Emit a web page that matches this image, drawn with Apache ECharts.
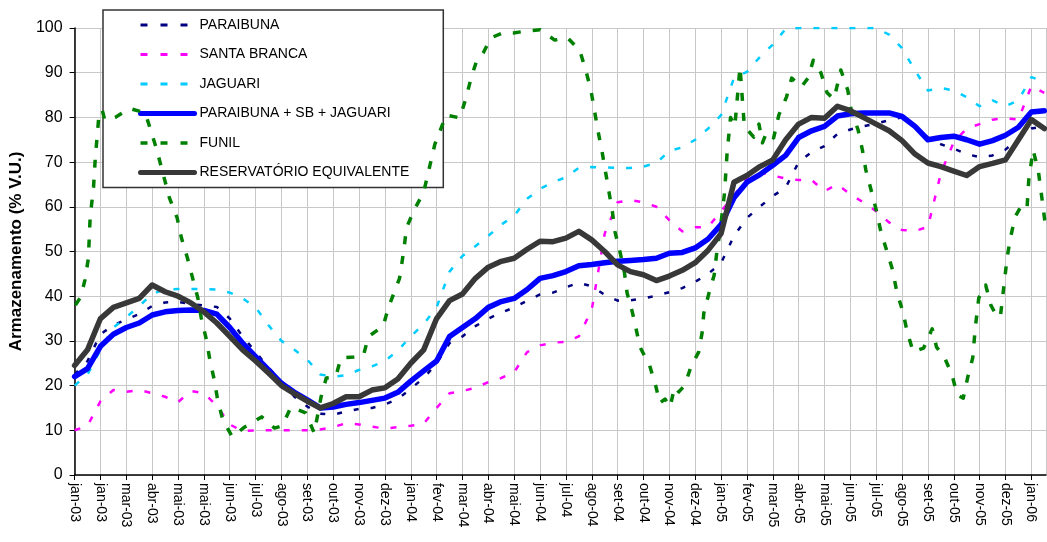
<!DOCTYPE html>
<html>
<head>
<meta charset="utf-8">
<script src="https://cdn.jsdelivr.net/npm/echarts@6/dist/echarts.min.js"></script>
<style>
html,body{margin:0;padding:0;background:#fff;}
#chart{width:1047px;height:542px;}
</style>
</head>
<body>
<div id="chart"></div>
<script>
// Rótulos do eixo X (um a cada 30 dias a partir de 01/jan/2003)
var rotulos = ['jan-03','jan-03','mar-03','abr-03','mai-03','mai-03','jun-03','jul-03','ago-03','set-03','out-03','nov-03','dez-03',
  'jan-04','fev-04','mar-04','abr-04','mai-04','jun-04','jul-04','ago-04','set-04','out-04','nov-04','dez-04',
  'jan-05','fev-05','mar-05','abr-05','mai-05','jun-05','jul-05','ago-05','set-05','out-05','nov-05','dez-05','jan-06'];

// Amostragem a cada 15 dias (dia 0 ... dia 1125)
var dias = [0,15,30,45,60,75,90,105,120,135,150,165,180,195,210,225,240,255,270,285,300,315,330,345,360,375,390,405,420,435,450,465,480,495,510,525,540,555,570,585,600,615,630,645,660,675,690,705,720,735,750,765,780,795,810,825,840,855,870,885,900,915,930,945,960,975,990,1005,1020,1035,1050,1065,1080,1095,1110,1125];

var paraibuna = [22.5,25.5,31.5,33.5,34.8,36,37.8,38.6,38.7,38.3,37.9,37.6,35,31,27.5,24,21,17.5,15.3,13.7,13.5,14.2,14.8,15,15.8,17,19.3,21.7,25,29.5,31,33.3,35,36.3,37.5,39,40.4,40.8,42,43,42.2,40.3,39,39.1,39.5,40.1,40.9,41.8,43.2,45,47.4,53.5,57.5,60,62.4,64.3,70,72.2,73.6,76.3,77.3,78,78.6,79.4,80,78,75.5,74,73,71.8,71.1,71.5,72.8,75.3,77.5,78];

var santaBranca = [10,11,16.5,19,18.6,19,18.3,17.5,16.3,18.8,18.3,15.5,11.3,9.8,10,10,10,10,10,10.2,10.7,11.6,11.3,10.8,10.4,10.7,11,11.5,15,18.3,18.8,19.5,20.8,21.7,23,27.5,29,29.6,29.8,31,37,54,61,61.5,61,60,57,54.5,55.4,55.5,59,62.5,66.5,67.7,67,66.3,66,66,63.5,65,62.8,61,59,56.5,54.8,54.6,55.5,67.5,74.5,77.5,78.5,79.5,79.8,79.5,87,85.5];

var jaguari = [20,22.5,28,33,35.3,37.8,40.5,41.5,41.6,41.6,41.6,41.5,40.8,39.5,37.5,33.5,30,28,25.8,22.5,22,22.3,23.5,24.3,25.5,27.8,31,33.8,37.5,45.5,49,51.2,53.5,56,58,61.8,64,65.5,66.6,68.7,68.9,68.8,68.7,68.7,69,69.8,72.5,73.3,75,77.5,80.5,88.8,90.2,93.5,96.3,99.8,100,100,100,100,100,100,100,98.5,95.5,90.5,86,86.6,86,84.5,82.5,83.8,82.5,83.8,89,88];

var somaPSJ = [22,23.8,28.8,31.5,33,34,35.8,36.5,36.8,36.9,36.8,36,33,29.5,26.5,23.5,20.5,18.5,16.8,15,15.2,15.8,16.2,16.7,17.2,18.5,21,23.3,25.5,31,33,35,37.5,38.8,39.5,41.5,44,44.6,45.5,46.8,47.1,47.5,47.8,48,48.2,48.5,49.6,49.8,50.8,52.8,56,62,65.5,67.2,69.3,71.5,75.5,77,78,80.3,80.8,81,81,81,80.2,78,75,75.5,75.8,75,74,74.8,76,77.8,81.2,81.5];

var reservEquiv = [24.5,28,35,37.5,38.5,39.5,42.5,41,40,38.5,36.5,34,31,28,25.5,22.8,20,18.2,16.5,15,16,17.5,17.5,19,19.5,21.5,25,28,35,39,40.5,44,46.5,47.8,48.5,50.5,52.3,52.2,53,54.5,52.6,50,47,45.5,44.8,43.5,44.5,45.8,47.5,50.3,54,65.5,67,69,70.5,75,78.5,80,79.8,82.5,81.5,80,78.5,77,74.8,71.8,69.8,69,68,67,69,69.7,70.5,75,79.5,77.5];

// FUNIL: pontos irregulares (dia, valor)
var funilDia = [1,7,12,16,18,22,24,26,28,32,35,47,64,82,95,110,119,124,131,137,143,147,153,157,162,166,172,183,197,217,232,241,251,268,278,286,292,303,309,324,335,341,358,364,377,382,385,394,405,418,431,447,454,460,466,474,483,497,509,524,540,557,572,586,593,599,603,607,612,616,620,624,627,633,638,641,647,651,656,667,674,679,685,691,696,701,708,715,724,728,730,736,742,745,749,754,757,761,766,772,777,788,794,798,803,811,817,826,832,843,851,857,866,873,881,889,897,901,909,914,918,924,930,935,942,949,954,961,966,973,985,995,1000,1009,1018,1024,1031,1036,1042,1045,1049,1057,1063,1068,1074,1078,1082,1086,1091,1099,1105,1107,1112,1118,1121,1127];
var funilVal = [38,39.8,43.6,48.5,57.5,64.5,70.9,75.4,80,81.7,79.4,80,82,81,73,62,57.5,53,48.5,44,39.6,35.1,30.2,25.7,21.3,16.8,12.3,8.5,10.7,13,10.5,11,15.2,13.9,9.4,17.5,21.7,22,26.2,26.4,26.7,31,33.3,37.4,44,50.3,55.3,59.3,63.3,74,80.5,79.9,84.3,88.8,92.4,94.4,97.8,98.9,98.9,99.3,99.6,97.3,97.8,95,90.6,86.1,81.7,77.2,72.3,67.8,63.3,58.8,54.4,49.7,45.2,40.7,36.5,33.1,28.6,24.6,20.1,16.1,17,15.2,19.7,18.6,20.1,24.2,27.5,31.8,36.2,40.7,44.7,49.7,54.8,63,72,80,78,91.3,78,75.6,78.5,74.3,76.7,75.4,80.5,84.6,88.8,86.8,88.8,92.8,89.9,85.5,84.1,90.6,86.1,81.7,77.2,72.7,68.2,63.8,59.3,54.8,50.3,45.9,40.9,36.5,32,27.5,28.4,32.7,28.6,26.4,22.4,17.9,17.2,21.7,26.2,33,39.6,42.5,38,36.2,35.3,42,48.8,53.2,57.7,60.4,59.7,66,72.7,68.2,63.8,54.8];

function pares(xs, ys){ return xs.map(function(x,i){ return [x, ys[i]]; }); }

var FONT = '"Liberation Sans", Arial, sans-serif';
var chart = echarts.init(document.getElementById('chart'), null, {renderer:'canvas'});

function serie(nome, dados, cor, largura, tipo, z){
  return {
    name: nome, type: 'line', data: dados, symbol: 'none', showSymbol: false,
    smooth: false, z: z, animation: false,
    lineStyle: {color: cor, width: largura, type: tipo, cap: tipo === 'solid' ? 'round' : 'butt', join: 'round'},
    itemStyle: {color: cor}
  };
}
function itemLegenda(nome, largura, tipo, cap){
  return {name: nome, lineStyle: {width: largura, type: tipo, cap: cap}};
}

chart.setOption({
  animation: false,
  backgroundColor: '#ffffff',
  grid: {left: 70, right: 1, top: 28, bottom: 67, containLabel: false},
  legend: {
    orient: 'vertical', left: 103, top: 10,
    itemWidth: 54, itemHeight: 14, itemGap: 15.5,
    padding: [8, 34, 8, 35],
    backgroundColor: '#ffffff', borderColor: '#333333', borderWidth: 1.5,
    itemStyle: {opacity: 0},
    textStyle: {fontFamily: FONT, fontSize: 14, color: '#000'},
    data: [
      itemLegenda('PARAIBUNA', 3, [7, 13], 'butt'),
      itemLegenda('SANTA BRANCA', 3, [7, 13], 'butt'),
      itemLegenda('JAGUARI', 3, [7, 13], 'butt'),
      itemLegenda('PARAIBUNA + SB + JAGUARI', 5, 'solid', 'round'),
      itemLegenda('FUNIL', 3.5, [7, 13], 'butt'),
      itemLegenda('RESERVATÓRIO EQUIVALENTE', 5, 'solid', 'round')
    ]
  },
  xAxis: {
    type: 'value', min: 0, max: 1127, interval: 30,
    axisLine: {show: true, onZero: false, lineStyle: {color: '#000', width: 1.5}},
    axisTick: {show: true, inside: false, length: 5, lineStyle: {color: '#000', width: 1}},
    splitLine: {show: true, lineStyle: {color: '#c8c8c8', width: 1}},
    axisLabel: {
      rotate: -90, margin: 8, fontFamily: FONT, fontSize: 14, color: '#000',
      showMaxLabel: false,
      formatter: function(v){ return (v % 30 === 0 && rotulos[v/30] !== undefined) ? rotulos[v/30] : ''; }
    }
  },
  yAxis: {
    type: 'value', min: 0, max: 100, interval: 10,
    name: 'Armazenamento (% V.U.)', nameLocation: 'middle', nameGap: 46, nameRotate: 90,
    nameTextStyle: {fontFamily: FONT, fontSize: 17, fontWeight: 'bold', color: '#000'},
    axisLine: {show: true, lineStyle: {color: '#000', width: 1.5}},
    axisTick: {show: true, inside: false, length: 5, lineStyle: {color: '#000'}},
    splitLine: {show: true, lineStyle: {color: '#c8c8c8', width: 1}},
    axisLabel: {margin: 12, fontFamily: FONT, fontSize: 16, color: '#000'}
  },
  series: [
    serie('PARAIBUNA', pares(dias, paraibuna), '#000080', 2.5, [5, 12], 2),
    serie('SANTA BRANCA', pares(dias, santaBranca), '#ff00ff', 2.5, [6, 12], 3),
    serie('JAGUARI', pares(dias, jaguari), '#00ccff', 2.5, [6, 12], 4),
    serie('PARAIBUNA + SB + JAGUARI', pares(dias, somaPSJ), '#0000ff', 5.5, 'solid', 5),
    serie('FUNIL', pares(funilDia, funilVal), '#008000', 3.5, [8, 12], 6),
    serie('RESERVATÓRIO EQUIVALENTE', pares(dias, reservEquiv), '#383838', 5.5, 'solid', 7)
  ]
});
</script>
</body>
</html>
